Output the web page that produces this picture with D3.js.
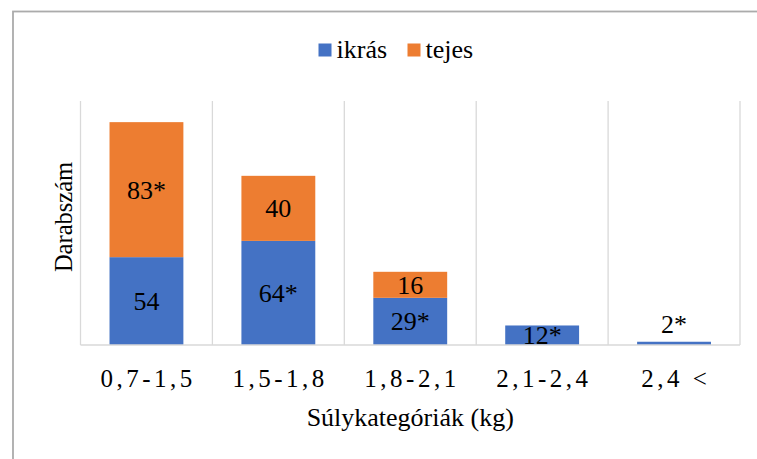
<!DOCTYPE html>
<html lang="hu">
<head>
  <meta charset="UTF-8">
  <title>Súlykategóriák</title>
  <script src="https://d3js.org/d3.v7.min.js"></script>
  <style>
    html, body { margin: 0; padding: 0; background: #fff; }
    svg { display: block; }
  </style>
</head>
<body>
  <svg width="757" height="459"></svg>
  <script>
    // adatok
    const categories = ["0,7-1,5", "1,5-1,8", "1,8-2,1", "2,1-2,4", "2,4 <"];
    const ikras = [54, 64, 29, 12, 2];
    const tejes = [83, 40, 16, 0, 0];
    const ikrasLabels = ["54", "64*", "29*", "12*", "2*"];
    const tejesLabels = ["83*", "40", "16", "", ""];
    const seriesNames = ["ikrás", "tejes"];
    const colors = ["#4472C4", "#ED7D31"];
    const yMax = 150;

    const FONT = "'Liberation Serif', 'Times New Roman', serif";

    const svg = d3.select("svg");

    // külső keret
    svg.append("rect")
       .attr("x", 13).attr("y", 11.5)
       .attr("width", 800).attr("height", 500)
       .attr("fill", "none")
       .attr("stroke", "#ababab")
       .attr("stroke-width", 1.8);

    const plot = { left: 80.5, right: 740, top: 101, bottom: 345 };

    const x = d3.scaleBand()
                .domain(categories)
                .range([plot.left, plot.right])
                .paddingInner(0.44)
                .paddingOuter(0.22);
    const step = x.step();

    const y = d3.scaleLinear()
                .domain([0, yMax])
                .range([plot.bottom, plot.top]);

    // függőleges rácsvonalak (kategóriahatárok)
    const bounds = categories.map(c => x(c) - step * 0.22);
    bounds.push(plot.right);
    svg.selectAll(".grid")
       .data(bounds)
       .enter()
       .append("line")
       .attr("x1", d => d).attr("x2", d => d)
       .attr("y1", plot.top).attr("y2", plot.bottom)
       .attr("stroke", "#d9d9d9")
       .attr("stroke-width", 1.3);

    // halmozott adatok
    const rows = categories.map((c, i) => ({ cat: c, ikras: ikras[i], tejes: tejes[i] }));
    const stack = d3.stack().keys(["ikras", "tejes"])(rows);
    const labelSets = [ikrasLabels, tejesLabels];

    stack.forEach((layer, si) => {
      svg.append("g")
         .selectAll("rect")
         .data(layer)
         .enter()
         .append("rect")
         .attr("x", d => x(d.data.cat))
         .attr("width", x.bandwidth())
         .attr("y", d => y(d[1]))
         .attr("height", d => y(d[0]) - y(d[1]))
         .attr("fill", colors[si]);
    });

    // x tengely vonala
    svg.append("line")
       .attr("x1", plot.left).attr("x2", plot.right)
       .attr("y1", plot.bottom).attr("y2", plot.bottom)
       .attr("stroke", "#d9d9d9")
       .attr("stroke-width", 1.5);

    // adatfeliratok
    stack.forEach((layer, si) => {
      svg.append("g")
         .selectAll("text")
         .data(layer)
         .enter()
         .append("text")
         .style("font-family", FONT)
         .style("font-size", "26px")
         .attr("text-anchor", "middle")
         .attr("x", d => x(d.data.cat) + x.bandwidth() / 2)
         .attr("y", d => {
           const h = y(d[0]) - y(d[1]);
           if (h < 10) return y(d[1]) - 9;
           return (y(d[0]) + y(d[1])) / 2 + 9;
         })
         .text((d, i) => labelSets[si][i]);
    });

    // kategóriafeliratok
    svg.selectAll(".cat-label")
       .data(categories)
       .enter()
       .append("text")
       .attr("class", "cat-label")
       .style("font-family", FONT)
       .style("font-size", "25px")
       .style("letter-spacing", "3.5px")
       .attr("text-anchor", "middle")
       .attr("x", d => x(d) + x.bandwidth() / 2 + 1.75)
       .attr("y", 387)
       .text(d => d);

    // tengelycímek
    svg.append("text")
       .style("font-family", FONT)
       .style("font-size", "26px")
       .attr("text-anchor", "middle")
       .attr("x", (plot.left + plot.right) / 2)
       .attr("y", 426)
       .text("Súlykategóriák (kg)");

    svg.append("text")
       .style("font-family", FONT)
       .style("font-size", "24.5px")
       .attr("text-anchor", "middle")
       .attr("transform", "translate(72,217) rotate(-90)")
       .text("Darabszám");

    // jelmagyarázat
    const legendX = [318.5, 407.5];
    seriesNames.forEach((name, i) => {
      svg.append("rect")
         .attr("x", legendX[i]).attr("y", 43.5)
         .attr("width", 13).attr("height", 13)
         .attr("fill", colors[i]);
      svg.append("text")
         .style("font-family", FONT)
         .style("font-size", "26px")
         .attr("x", legendX[i] + 18)
         .attr("y", 57.5)
         .text(name);
    });
  </script>
</body>
</html>
